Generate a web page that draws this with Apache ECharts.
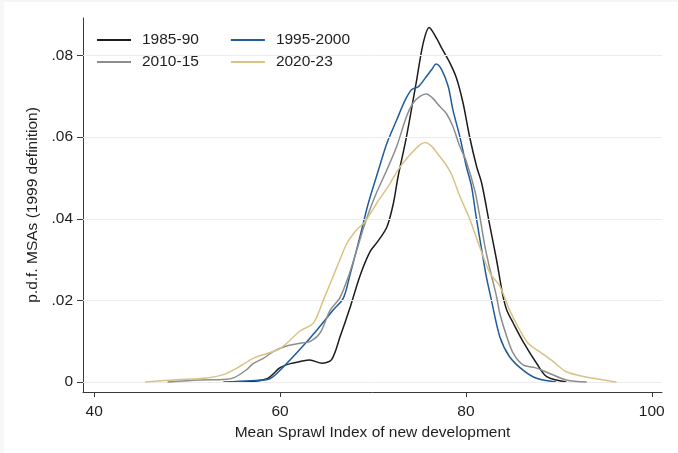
<!DOCTYPE html>
<html>
<head>
<meta charset="utf-8">
<script src="https://cdn.jsdelivr.net/npm/echarts@6/dist/echarts.min.js"></script>
<style>html,body{margin:0;padding:0;background:#fff;}#c{width:678px;height:453px;}</style>
</head>
<body>
<div id="c"></div>
<script>
// ---- data ----
const seriesNames = ['1985-90', '1995-2000', '2010-15', '2020-23'];
const xTicks = [40, 60, 80, 100];
const yTicks = [0, 0.02, 0.04, 0.06, 0.08];

const d1985 = [
  [55.8,0],[58.6,0.0008],[60.0,0.0035],[61.1,0.0045],[62.15,0.005],[63.2,0.0054],[64.5,0.0046],
  [65.55,0.0055],[66.45,0.011],[67.5,0.018],[68.6,0.026],[69.7,0.032],[70.5,0.0344],[71.5,0.038],
  [72.2,0.0438],[72.7,0.0503],[73.6,0.060],[74.7,0.074],[75.4,0.083],[76.05,0.0869],[76.85,0.0842],
  [77.4,0.0818],[78.3,0.0781],[79.0,0.0744],[79.7,0.0683],[80.4,0.0601],[81.15,0.0528],[81.7,0.0487],
  [82.6,0.038],[83.3,0.0299],[84.0,0.0209],[84.4,0.0176],[85.1,0.0144],[86.15,0.0099],[87.6,0.0046],
  [88.7,0.0013],[90.8,0]
];
const d1995 = [
  [53.9,0],[56.8,0.0003],[58.9,0.0008],[60.35,0.0037],[62.15,0.008],[63.95,0.0127],[65.7,0.0176],
  [66.8,0.0205],[67.5,0.026],[68.6,0.0356],[69.5,0.0438],[70.6,0.052],[71.5,0.0585],[72.55,0.0642],
  [73.45,0.069],[74.15,0.0716],[74.9,0.0724],[75.6,0.0744],[76.3,0.0765],[76.8,0.0779],[77.4,0.0765],
  [78.1,0.0724],[78.6,0.0667],[79.35,0.0601],[80.05,0.0528],[80.6,0.0480],[81.1,0.0405],[81.7,0.0324],
  [82.2,0.0258],[82.75,0.0200],[83.65,0.0111],[84.7,0.0062],[86.15,0.0029],[87.6,0.0009],[89.7,0]
];
const d2010 = [
  [47.9,0],[51.4,0.0005],[53.9,0.0006],[55.0,0.001],[56.4,0.003],[57.1,0.0045],[58.2,0.0058],
  [59.3,0.0075],[60.7,0.0088],[62.15,0.0095],[63.2,0.0099],[64.3,0.012],[65.4,0.0176],[66.45,0.0207],
  [67.35,0.0258],[68.25,0.0323],[69.15,0.0389],[70.2,0.0454],[71.5,0.052],[72.55,0.0577],[73.6,0.065],
  [74.3,0.0683],[75.05,0.070],[75.75,0.0706],[76.45,0.0695],[77.2,0.0675],[77.9,0.0658],[78.6,0.0626],
  [79.35,0.0577],[80.05,0.0540],[80.95,0.0470],[81.5,0.0405],[82.05,0.0332],[82.6,0.0275],[83.3,0.0209],
  [83.65,0.0168],[84.4,0.0111],[85.1,0.007],[86.15,0.0042],[87.6,0.0034],[89.0,0.0021],[90.8,0.0005],[93.0,0]
];
const d2020 = [
  [45.5,0],[48.5,0.0005],[52.1,0.001],[53.9,0.0018],[55.35,0.0034],[57.1,0.0058],[58.6,0.007],
  [60.0,0.0082],[61.1,0.0103],[62.15,0.0125],[63.6,0.0145],[64.65,0.020],[65.7,0.0258],[66.45,0.030],
  [67.2,0.034],[68.25,0.0373],[69.15,0.0393],[70.4,0.0438],[71.8,0.0485],[72.7,0.052],[73.95,0.0556],
  [75.05,0.0581],[75.6,0.0587],[76.3,0.0578],[77.0,0.0558],[77.75,0.0536],[78.45,0.0509],[79.35,0.0455],
  [80.4,0.040],[81.5,0.033],[82.6,0.0266],[83.65,0.0235],[84.7,0.0176],[85.8,0.0127],[86.7,0.0095],
  [87.95,0.0074],[89.4,0.005],[90.8,0.0025],[92.95,0.0012],[94.75,0.0005],[96.2,0]
];
const seriesData = [d1985, d1995, d2010, d2020];
const colors = ['#1c1c1c', '#1f5c99', '#8d8d8d', '#d8c385'];

const FONT = "'Liberation Sans', Arial, sans-serif";
const FS = 15.5;
const TXT = '#1e1e1e';

const chart = echarts.init(document.getElementById('c'), null, {renderer: 'canvas'});

const series = seriesData.map((d, i) => ({
  name: seriesNames[i],
  type: 'line',
  data: d,
  smooth: 0.3,
  symbol: 'none',
  showSymbol: false,
  z: 3 + i,
  lineStyle: {color: colors[i], width: 1.5},
  itemStyle: {color: colors[i]},
  emphasis: {disabled: true}
}));
series.push({
  name: 'grid',
  type: 'line',
  data: [],
  z: 1,
  silent: true,
  markLine: {
    silent: true,
    symbol: ['none', 'none'],
    label: {show: false},
    lineStyle: {color: '#ececec', type: 'solid', width: 1},
    data: yTicks.map(v => ({yAxis: v}))
  }
});

const legendCommon = {
  icon: 'rect',
  itemWidth: 34,
  itemHeight: 2,
  itemGap: 32,
  padding: 0,
  orient: 'horizontal',
  textStyle: {fontFamily: FONT, fontSize: FS, color: TXT, padding: [0, 0, 0, 6]},
  selectedMode: false
};

chart.setOption({
  animation: false,
  backgroundColor: '#fff',
  grid: {left: 83, right: 16, top: 18, bottom: 61, containLabel: false, outerBoundsMode: 'none'},
  legend: [
    Object.assign({}, legendCommon, {left: 97, top: 32, data: [seriesNames[0], seriesNames[1]]}),
    Object.assign({}, legendCommon, {left: 97, top: 54, data: [seriesNames[2], seriesNames[3]]})
  ],
  xAxis: {
    type: 'value',
    min: 38.8,
    max: 101.1,
    name: 'Mean Sprawl Index of new development',
    nameLocation: 'middle',
    nameGap: 26,
    nameTextStyle: {fontFamily: FONT, fontSize: FS, color: TXT},
    axisLine: {show: true, onZero: false, lineStyle: {color: '#3a3a3a', width: 1}},
    axisTick: {show: true, length: 5, customValues: xTicks, lineStyle: {color: '#3a3a3a'}},
    axisLabel: {customValues: xTicks, margin: 12, fontFamily: FONT, fontSize: FS, color: TXT},
    splitLine: {show: false}
  },
  yAxis: {
    type: 'value',
    min: -0.00245,
    max: 0.0892,
    name: 'p.d.f. MSAs (1999 definition)',
    nameLocation: 'middle',
    nameGap: 37,
    nameRotate: 90,
    nameTextStyle: {fontFamily: FONT, fontSize: FS, color: TXT},
    axisLine: {show: true, onZero: false, lineStyle: {color: '#3a3a3a', width: 1}},
    axisTick: {show: true, length: 6, customValues: yTicks, lineStyle: {color: '#3a3a3a'}},
    axisLabel: {
      customValues: yTicks, margin: 10, fontFamily: FONT, fontSize: FS, color: TXT,
      formatter: v => (Math.abs(v) < 1e-9 ? '0' : v.toFixed(2).replace(/^0/, ''))
    },
    splitLine: {show: false}
  },
  graphic: [
    {type: 'rect', left: 0, top: 0, shape: {width: 678, height: 2}, style: {fill: '#f5f5f5'}, silent: true},
    {type: 'rect', left: 0, top: 0, shape: {width: 4, height: 453}, style: {fill: '#f7f7f7'}, silent: true}
  ],
  series: series
});
</script>
</body>
</html>
